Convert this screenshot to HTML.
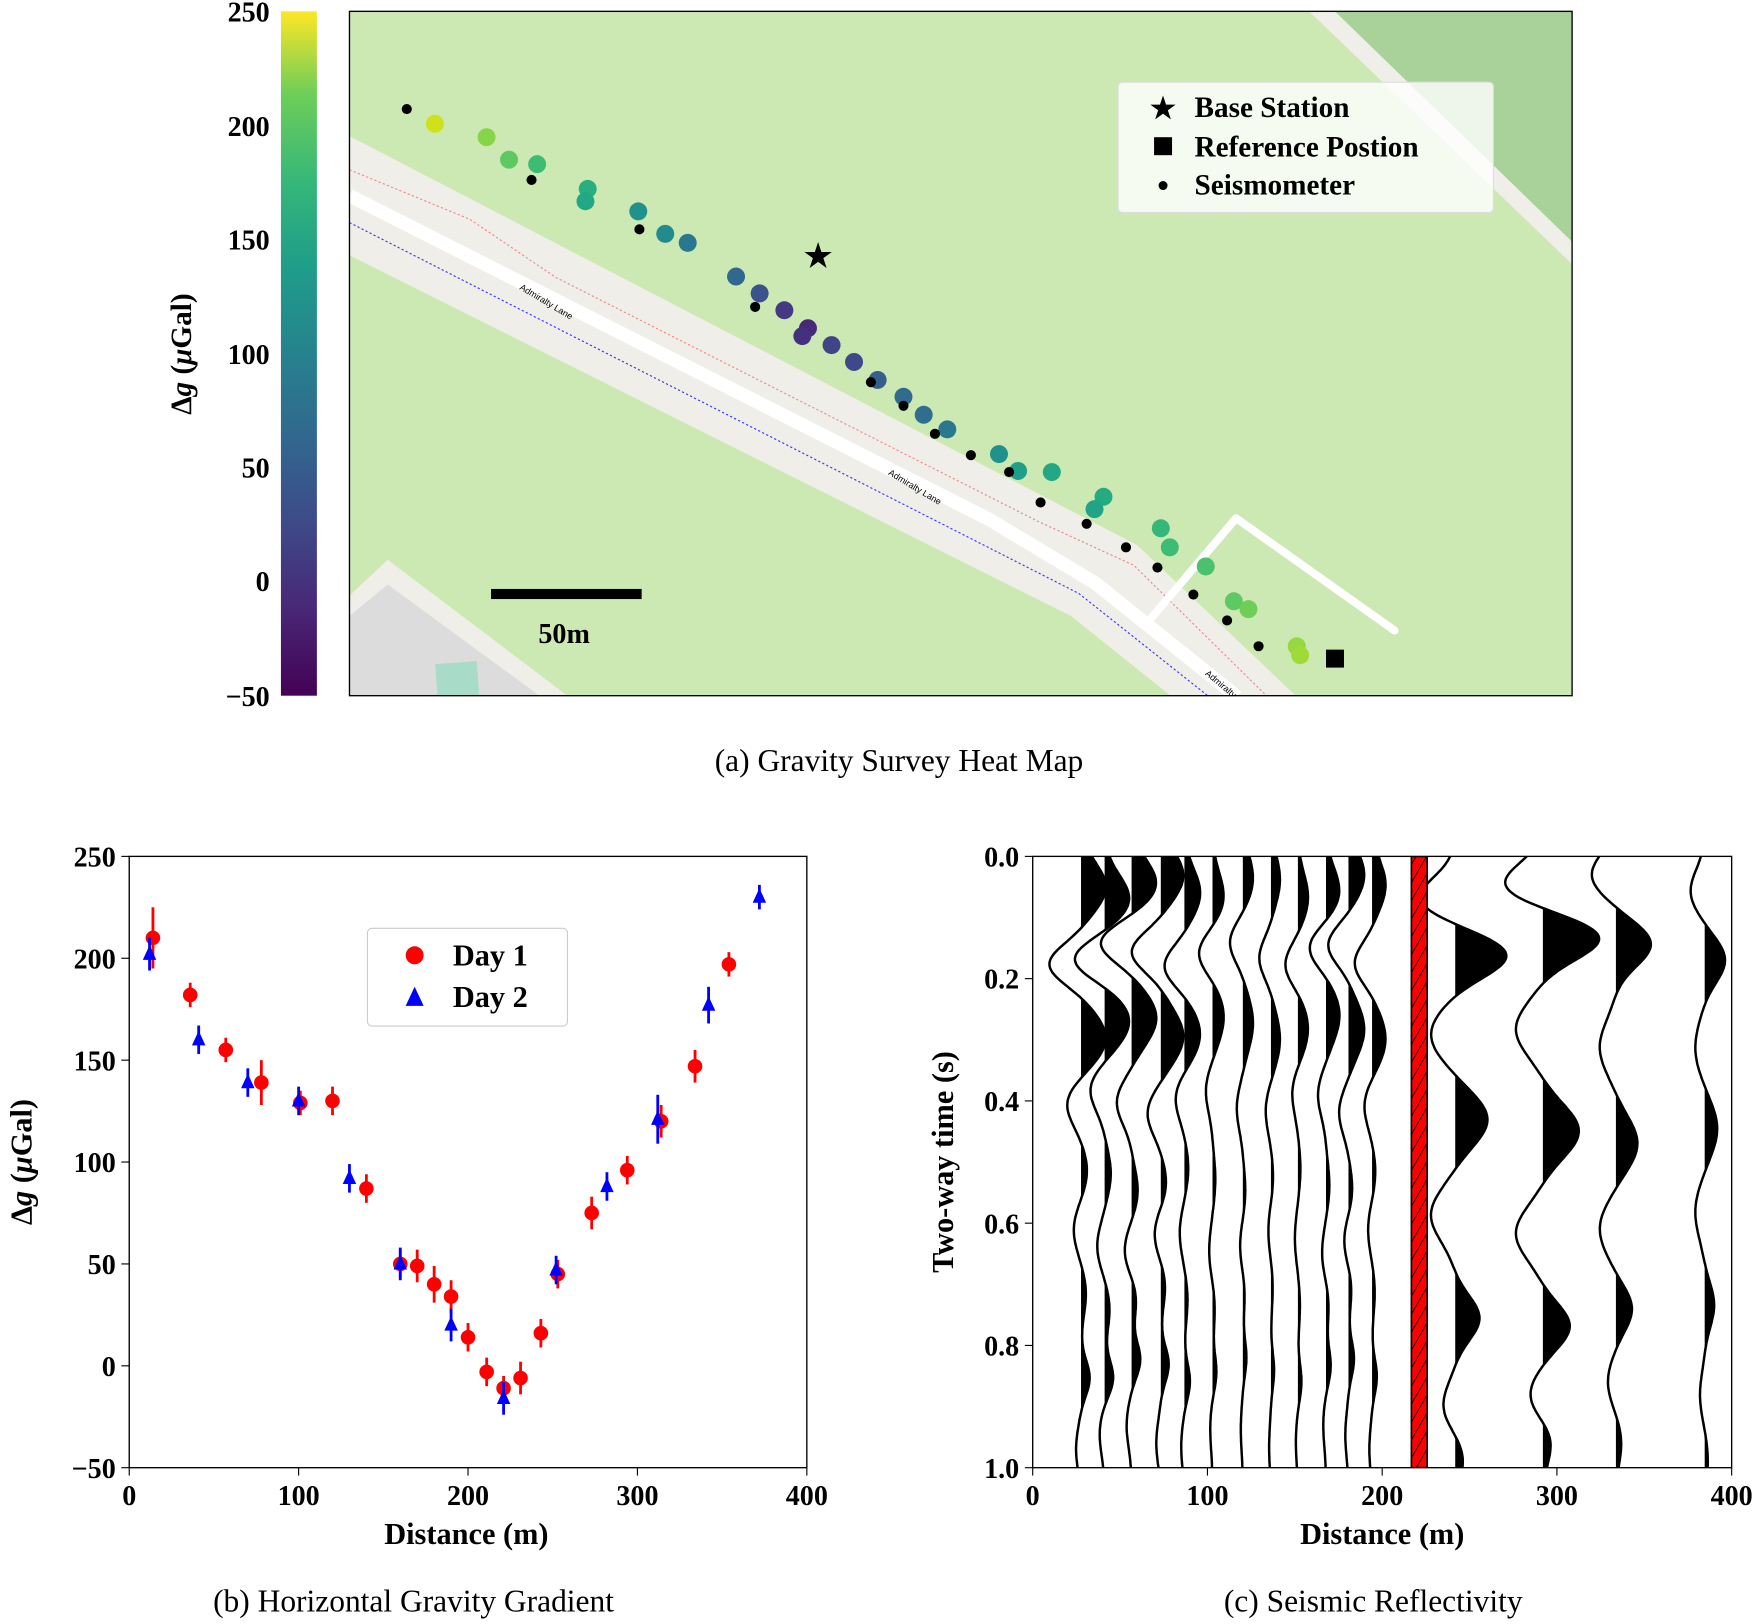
<!DOCTYPE html>
<html><head><meta charset="utf-8"><style>body{margin:0;background:#fff}svg{display:block}text{font-family:"Liberation Serif",serif;font-weight:bold;fill:#000}</style></head><body>
<svg id="s" width="1762" height="1624" viewBox="0 0 1568 1445" xmlns="http://www.w3.org/2000/svg">
<defs>
<linearGradient id="vir" x1="0" y1="1" x2="0" y2="0">
<stop offset="0" stop-color="#440154"/><stop offset="0.13" stop-color="#482878"/><stop offset="0.25" stop-color="#3e4989"/><stop offset="0.38" stop-color="#31688e"/><stop offset="0.5" stop-color="#26828e"/><stop offset="0.63" stop-color="#1f9e89"/><stop offset="0.75" stop-color="#35b779"/><stop offset="0.88" stop-color="#6ece58"/><stop offset="1" stop-color="#fde725"/></linearGradient>
<pattern id="hat" width="8" height="8" patternUnits="userSpaceOnUse" patternTransform="rotate(30)"><rect width="8" height="8" fill="#f00"/><line x1="0" y1="0" x2="0" y2="8" stroke="#000" stroke-width="1.5"/></pattern>
<clipPath id="mc"><rect x="311" y="10" width="1088" height="609"/></clipPath>
<clipPath id="cc"><rect x="919" y="762" width="622" height="544"/></clipPath>
</defs>
<!-- colorbar -->
<rect x="250" y="10" width="32" height="609" fill="url(#vir)"/>
<g font-size="25" text-anchor="end">
<text x="240" y="19">250</text><text x="240" y="121">200</text><text x="240" y="222">150</text><text x="240" y="324">100</text><text x="240" y="425">50</text><text x="240" y="526">0</text><text x="240" y="628">−50</text></g>
<text transform="translate(170,315) rotate(-90)" font-size="26" text-anchor="middle">Δ<tspan font-style="italic">g</tspan> (<tspan font-style="italic">μ</tspan>Gal)</text>
<!-- map -->
<g clip-path="url(#mc)">
<rect x="311" y="10" width="1088" height="609" fill="#cde9b3"/>
<polygon points="1165,10 1399,10 1399,235" fill="#f0eee8"/>
<polygon points="1188,10 1399,10 1399,215" fill="#a9d19a"/>
<polygon points="311,121 1012,485 1154,620 1043,620 953,548 311,227" fill="#f0eee8"/>
<polyline points="311,174 880,462 975,519 1101,620" fill="none" stroke="#fff" stroke-width="12"/>
<polyline points="311,151 418,195 495,247 924,464 1009,503 1128,620" fill="none" stroke="#e88" stroke-width="1" stroke-dasharray="2,2"/>
<polyline points="311,198 960,528 1076,620" fill="none" stroke="#33f" stroke-width="1" stroke-dasharray="2,2"/>
<polyline points="1021,554 1100,461 1241,561" fill="none" stroke="#fff" stroke-width="7" stroke-linejoin="round" stroke-linecap="round"/>
<polygon points="311,530 345,498 505,619 311,619" fill="#f0eee8"/>
<polygon points="311,548 345,520 480,619 311,619" fill="#dcdcdc"/>
<rect x="388" y="590" width="37" height="30" fill="#a8dcc8" transform="rotate(-4 400 600)"/>
<text x="462" y="257" font-size="8" font-weight="normal" transform="rotate(31 462 257)" style="font-family:'Liberation Sans',sans-serif;font-weight:normal">Admiralty Lane</text>
<text x="790" y="422" font-size="8" transform="rotate(31 790 422)" style="font-family:'Liberation Sans',sans-serif;font-weight:normal">Admiralty Lane</text>
<text x="1072" y="600" font-size="8" transform="rotate(40 1072 600)" style="font-family:'Liberation Sans',sans-serif;font-weight:normal">Admiralty Lane</text>
<rect x="437" y="524" width="134" height="9" fill="#000"/>
<text x="502" y="572" font-size="25" text-anchor="middle">50m</text>
<g id="pts"></g>
<text x="728" y="237" font-size="28" text-anchor="middle">★</text>
<rect x="1180" y="578" width="16" height="16" fill="#000"/>
<rect x="995" y="73" width="334" height="116" rx="4" fill="#fff" fill-opacity="0.8" stroke="#ddd"/>
<text x="1035" y="105" font-size="26" text-anchor="middle">★</text>
<rect x="1027" y="122" width="16" height="16" fill="#000"/>
<circle cx="1035" cy="165" r="4" fill="#000"/>
<g font-size="26"><text x="1063" y="104">Base Station</text><text x="1063" y="139">Reference Postion</text><text x="1063" y="173">Seismometer</text></g>
</g>
<rect x="311" y="10" width="1088" height="609" fill="none" stroke="#000" stroke-width="1.2"/>
<text x="800" y="686" font-size="28" text-anchor="middle" style="font-weight:normal">(a) Gravity Survey Heat Map</text>
<!-- plot b -->
<rect x="115" y="762" width="603" height="544" fill="none" stroke="#000" stroke-width="1.2"/>
<g id="bt"></g>
<rect x="327" y="826" width="178" height="87" rx="4" fill="#fff" stroke="#ccc"/>
<circle cx="369" cy="850" r="8" fill="#f00"/>
<polygon points="369,878 377,895 361,895" fill="#00f"/>
<g font-size="27"><text x="403" y="859">Day 1</text><text x="403" y="896">Day 2</text></g>
<text x="415" y="1374" font-size="27" text-anchor="middle">Distance (m)</text>
<text transform="translate(28,1034) rotate(-90)" font-size="27" text-anchor="middle">Δ<tspan font-style="italic">g</tspan> (<tspan font-style="italic">μ</tspan>Gal)</text>
<text x="368" y="1434" font-size="28" text-anchor="middle" style="font-weight:normal">(b) Horizontal Gravity Gradient</text>
<!-- plot c -->
<g clip-path="url(#cc)"><g id="tr"></g>
<rect x="1256" y="762" width="14" height="544" fill="url(#hat)" stroke="#000" stroke-width="1.5"/></g>
<rect x="919" y="762" width="622" height="544" fill="none" stroke="#000" stroke-width="1.2"/>
<g id="ct"></g>
<text x="1230" y="1374" font-size="27" text-anchor="middle">Distance (m)</text>
<text transform="translate(848,1034) rotate(-90)" font-size="27" text-anchor="middle">Two-way time (s)</text>
<text x="1222" y="1434" font-size="28" text-anchor="middle" style="font-weight:normal">(c) Seismic Reflectivity</text>
</svg>
<script>
var NS="http://www.w3.org/2000/svg";
function el(p,t,a,txt){var e=document.createElementNS(NS,t);for(var k in a)e.setAttribute(k,a[k]);if(txt!==undefined)e.textContent=txt;document.getElementById(p).appendChild(e);return e;}
var blk=[[362,97],[473,160],[569,204],[672,273],[775,340],[804,361],[832,386],[864,405],[898,420],[926,447],[967,466],[1002,487],[1030,505],[1062,529],[1092,552],[1120,575]];
var col=[[387,110,"#d0e11c"],[433,122,"#86d549"],[453,142,"#5ec962"],[478,146,"#3dbc74"],[523,168,"#29af7f"],[521,179,"#22a884"],[568,188,"#21918c"],[592,208,"#238a8d"],[612,216,"#2a788e"],[655,246,"#31688e"],[676,261,"#3b528b"],[698,276,"#443983"],[719,292,"#482878"],[714,299,"#46307e"],[740,307,"#414487"],[760,322,"#3e4989"],[781,338,"#355f8d"],[804,353,"#2f6c8e"],[822,369,"#2e6e8e"],[843,382,"#2a788e"],[889,404,"#21918c"],[906,419,"#1f9e89"],[936,420,"#22a884"],[982,442,"#25ab82"],[974,453,"#20a386"],[1033,470,"#35b779"],[1041,487,"#3dbc74"],[1073,504,"#4ac16d"],[1098,535,"#5ec962"],[1111,542,"#6ece58"],[1154,575,"#95d840"],[1157,583,"#a0da39"]];
col.forEach(function(c){el("pts","circle",{cx:c[0],cy:c[1],r:8,fill:c[2]});});
blk.forEach(function(c){el("pts","circle",{cx:c[0],cy:c[1],r:4.5,fill:"#000"});});
function bx(d){return 115+603*d/400;} function by(g){return 762+544*(250-g)/300;}
for(var i=0;i<=4;i++){var x=bx(i*100);el("bt","line",{x1:x,y1:1306,x2:x,y2:1313,stroke:"#000"});el("bt","text",{x:x,y:1339,"font-size":25,"text-anchor":"middle"},String(i*100));}
for(var g=-50;g<=250;g+=50){var y=by(g);el("bt","line",{x1:108,y1:y,x2:115,y2:y,stroke:"#000"});el("bt","text",{x:103,y:y+9,"font-size":25,"text-anchor":"end"},g<0?"−50":String(g));}
var d1=[[14,210,15],[36,182,6],[57,155,6],[78,139,11],[101,129,6],[120,130,7],[140,87,7],[160,50,7],[170,49,8],[180,40,9],[190,34,8],[200,14,7],[211,-3,7],[221,-11,6],[231,-6,8],[243,16,7],[253,45,7],[273,75,8],[294,96,7],[314,120,8],[334,147,8],[354,197,6]];
var d2=[[12,202,8],[41,160,7],[70,139,7],[100,130,7],[130,92,7],[160,50,8],[190,20,8],[221,-16,8],[252,47,7],[282,88,7],[312,121,12],[342,177,9],[372,230,6]];
d1.forEach(function(p){var x=bx(p[0]);el("bt","line",{x1:x,y1:by(p[1]+p[2]),x2:x,y2:by(p[1]-p[2]),stroke:"#f00","stroke-width":2.5});el("bt","circle",{cx:x,cy:by(p[1]),r:6.5,fill:"#f00"});});
d2.forEach(function(p){var x=bx(p[0]),y=by(p[1]);el("bt","line",{x1:x,y1:by(p[1]+p[2]),x2:x,y2:by(p[1]-p[2]),stroke:"#00f","stroke-width":2.5});el("bt","polygon",{points:x+","+(y-8)+" "+(x+6)+","+(y+5)+" "+(x-6)+","+(y+5),fill:"#00f"});});
function cx(d){return 919+622*d/400;} function cy(t){return 762+544*t;}
for(var i=0;i<=4;i++){var x=cx(i*100);el("ct","line",{x1:x,y1:1306,x2:x,y2:1313,stroke:"#000"});el("ct","text",{x:x,y:1339,"font-size":25,"text-anchor":"middle"},String(i*100));}
for(var i=0;i<=5;i++){var y=cy(i*0.2);el("ct","line",{x1:912,y1:y,x2:919,y2:y,stroke:"#000"});el("ct","text",{x:907,y:y+9,"font-size":25,"text-anchor":"end"},(i*0.2).toFixed(1));}
var A=[[0.05,1,.055],[0.16,-1.3,.045],[0.28,1,.06],[0.4,-.6,.05],[0.53,.25,.05],[0.63,-.3,.05],[0.72,.2,.05],[0.84,.35,.04],[0.95,-.2,.05]];
var B=[[0.05,-.9,.05],[0.15,1.3,.05],[0.3,-.6,.06],[0.45,.8,.06],[0.6,-.6,.06],[0.75,.6,.05],[0.88,-.3,.05],[0.97,.2,.05]];
var tr=[[962,A,22],[983,A,22],[1007,A,22],[1033,A,20],[1054,A,14],[1079,A,10],[1106,A,9],[1131,A,8],[1155,A,9],[1180,A,12],[1200,A,14],[1221,A,12],[1295,B,36],[1373,B,40],[1438,B,24],[1517,B,14]];
tr.forEach(function(T,k){var x0=T[0],W=T[1],s=T[2];var pts=[],fill=[];
for(var i=0;i<=300;i++){var t=i/300,v=0;W.forEach(function(w,j){var c=w[0]+0.02*Math.sin(k*1.7+j);v+=w[1]*Math.exp(-Math.pow((t-c)/w[2],2));});
var x=x0+s*v,y=cy(t);pts.push(x.toFixed(1)+","+y.toFixed(1));fill.push(Math.max(x,x0).toFixed(1)+","+y.toFixed(1));}
el("tr","polygon",{points:x0+","+cy(0)+" "+fill.join(" ")+" "+x0+","+cy(1),fill:"#000"});
el("tr","polyline",{points:pts.join(" "),fill:"none",stroke:"#000","stroke-width":2.2});});
</script>
</body></html>
